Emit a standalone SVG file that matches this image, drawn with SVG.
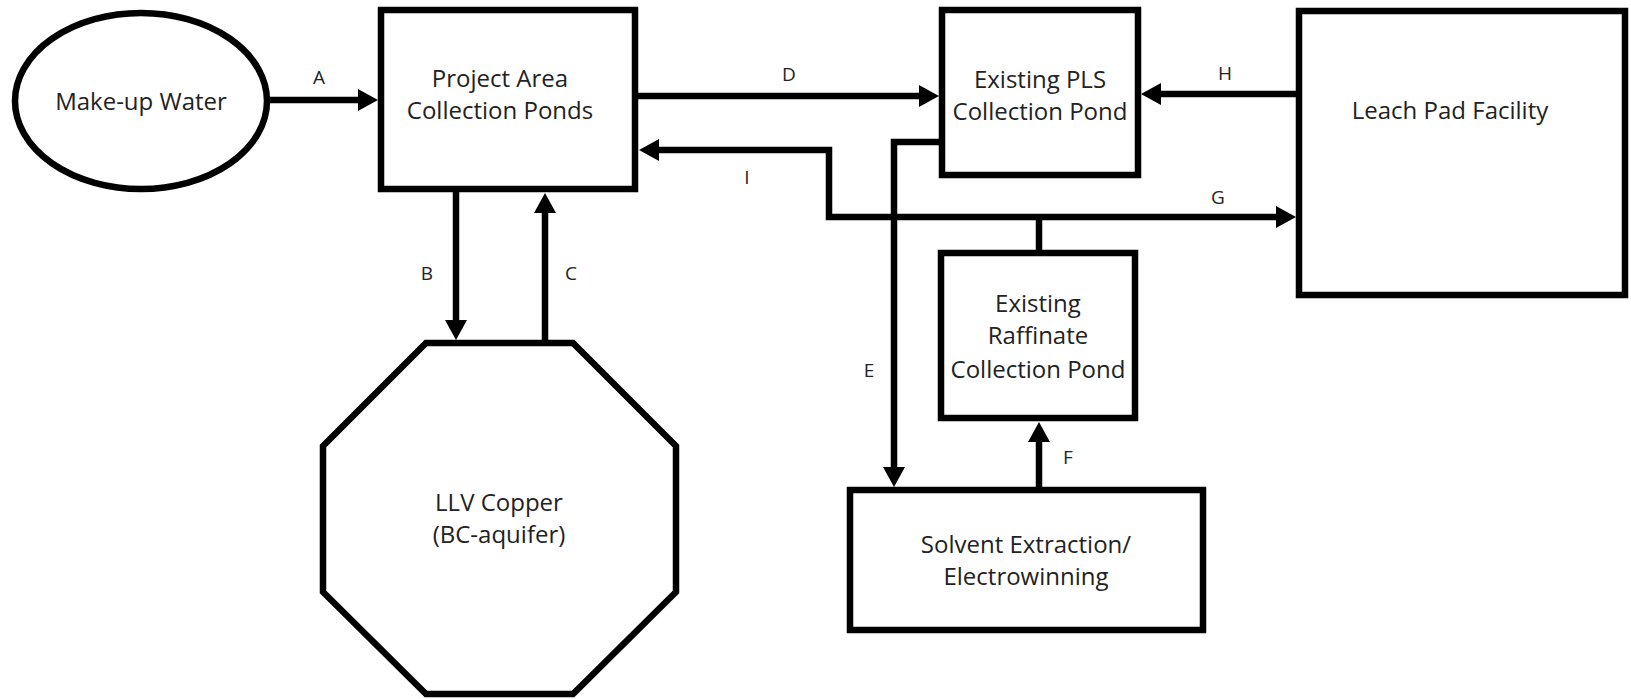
<svg xmlns="http://www.w3.org/2000/svg" width="1631" height="699" viewBox="0 0 1631 699">
<style>
.shape{fill:#fff;stroke:#000;stroke-width:6.5;stroke-linejoin:miter}
.conn{fill:none;stroke:#000;stroke-width:6.5;stroke-linejoin:miter;stroke-linecap:butt}
.t{font-family:"Open Sans","Noto Sans","Liberation Sans",sans-serif;font-size:24px;fill:#222;text-anchor:middle}
.lbl{font-family:"Open Sans","Noto Sans","Liberation Sans",sans-serif;font-size:19px;fill:#222;text-anchor:middle}
</style>
<defs>
<marker id="ah" viewBox="0 -11 20 22" refX="0" refY="0" markerWidth="20" markerHeight="22" markerUnits="userSpaceOnUse" orient="auto">
<path d="M0,-11 L20,0 L0,11 z" fill="#000"/>
</marker>
</defs>
<rect width="1631" height="699" fill="#fff"/>
<g id="connectors">
<path class="conn" d="M267,100 H358" marker-end="url(#ah)"/>
<path class="conn" d="M635,96 H919" marker-end="url(#ah)"/>
<path class="conn" d="M1299,94 H1161" marker-end="url(#ah)"/>
<path class="conn" d="M1039,217 H829 V150 H659" marker-end="url(#ah)"/>
<path class="conn" d="M1039,217 H1276" marker-end="url(#ah)"/>
<path class="conn" d="M1039,253 V214"/>
<path class="conn" d="M942,142 H894 V467" marker-end="url(#ah)"/>
<path class="conn" d="M1039,490 V442" marker-end="url(#ah)"/>
<path class="conn" d="M456,189 V320" marker-end="url(#ah)"/>
<path class="conn" d="M545,343 V213" marker-end="url(#ah)"/>
<text class="lbl" x="319" y="84">A</text>
<text class="lbl" x="789" y="81">D</text>
<text class="lbl" x="1225" y="80">H</text>
<text class="lbl" x="747" y="184">I</text>
<text class="lbl" x="1218" y="204">G</text>
<text class="lbl" x="427" y="280">B</text>
<text class="lbl" x="571" y="280">C</text>
<text class="lbl" x="869" y="377">E</text>
<text class="lbl" x="1068" y="464">F</text>
</g>
<g id="makeup-water">
<ellipse class="shape" cx="141" cy="101" rx="126" ry="88"/>
<text class="t" x="141" y="110">Make-up Water</text>
</g>
<g id="project-ponds">
<rect class="shape" x="381" y="10" width="254" height="179"/>
<text class="t" x="500" y="87">Project Area</text>
<text class="t" x="500" y="119">Collection Ponds</text>
</g>
<g id="pls-pond">
<rect class="shape" x="942" y="10" width="196" height="165"/>
<text class="t" x="1040" y="88">Existing PLS</text>
<text class="t" x="1040" y="120">Collection Pond</text>
</g>
<g id="leach-pad">
<rect class="shape" x="1299" y="11" width="326" height="284"/>
<text class="t" x="1450" y="119">Leach Pad Facility</text>
</g>
<g id="raffinate-pond">
<rect class="shape" x="941" y="253" width="194" height="165"/>
<text class="t" x="1038" y="312">Existing</text>
<text class="t" x="1038" y="344">Raffinate</text>
<text class="t" x="1038" y="378">Collection Pond</text>
</g>
<g id="sx-ew">
<rect class="shape" x="850" y="490" width="353" height="140"/>
<text class="t" x="1026" y="553">Solvent Extraction/</text>
<text class="t" x="1026" y="585">Electrowinning</text>
</g>
<g id="llv-copper">
<polygon class="shape" points="426,343 573,343 676,446 676,592 573,694 426,694 323,592 323,446"/>
<text class="t" x="499" y="511">LLV Copper</text>
<text class="t" x="499" y="543">(BC-aquifer)</text>
</g>
</svg>
